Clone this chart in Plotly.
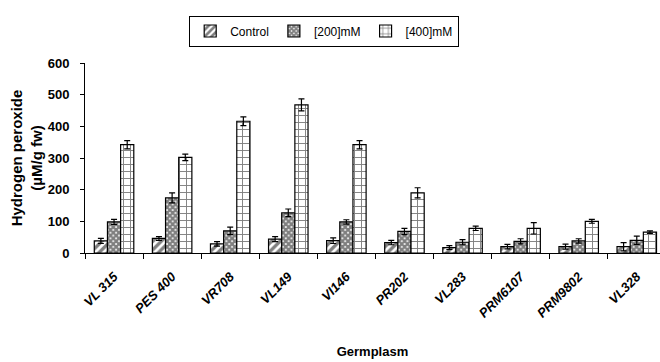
import plotly.graph_objects as go

categories = ["VL 315", "PES 400", "VR708", "VL149", "VI146", "PR202", "VL283", "PRM6107", "PRM9802", "VL328"]
control = [38, 46, 29, 44, 39, 33, 17, 20, 20, 20]
control_err = [8, 6, 7, 8, 9, 7, 6, 7, 8, 13]
mm200 = [98, 174, 70, 127, 98, 68, 34, 37, 38, 40]
mm200_err = [8, 16, 12, 12, 7, 10, 8, 8, 7, 13]
mm400 = [342, 302, 416, 468, 342, 190, 78, 78, 100, 66]
mm400_err = [13, 10, 14, 19, 13, 16, 7, 18, 6, 4]

FONT = "Liberation Sans, Arial, sans-serif"

fig = go.Figure()
series = [
    ("Control", control, control_err, dict(shape="/", fgcolor="black", bgcolor="white", size=6, solidity=0.55)),
    ("[200]mM", mm200, mm200_err, dict(shape="x", fgcolor="black", bgcolor="white", size=4, solidity=0.8)),
    ("[400]mM", mm400, mm400_err, dict(shape="+", fgcolor="black", bgcolor="white", size=7, solidity=0.25)),
]
for name, vals, err, pat in series:
    fig.add_trace(go.Bar(
        name=name, x=categories, y=vals,
        marker=dict(color="white", pattern=pat, line=dict(color="black", width=1.2)),
        error_y=dict(type="data", array=err, color="black", thickness=1.2, width=3),
    ))

fig.update_layout(
    width=660, height=362,
    margin=dict(l=85, r=0, t=63, b=109),
    paper_bgcolor="white", plot_bgcolor="white",
    barmode="group", bargap=0.32, bargroupgap=0,
    font=dict(family=FONT, color="black"),
    legend=dict(orientation="h", x=0.416, xanchor="center", y=1.25, yanchor="top",
                bordercolor="black", borderwidth=1, font=dict(size=12, family=FONT),
                itemwidth=30, tracegroupgap=0),
    xaxis=dict(
        range=[-0.5, 9.4], showline=True, linecolor="black", linewidth=1,
        ticks="outside", ticklen=5, tickcolor="black", tickson="boundaries",
        tickangle=-45, ticklabelstandoff=10,
        tickfont=dict(size=13, family=FONT, weight="bold", style="italic"),
        title=dict(text="Germplasm", font=dict(size=13, family=FONT, weight="bold"), standoff=27),
        showgrid=False,
    ),
    yaxis=dict(
        range=[0, 600], dtick=100, showline=True, linecolor="black", linewidth=1,
        ticks="outside", ticklen=4, tickcolor="black", ticklabelstandoff=8,
        tickfont=dict(size=13, family=FONT, weight="bold"),
        title=dict(text="Hydrogen peroxide<br>(µM/g fw)", font=dict(size=15, family=FONT, weight="bold"), standoff=1),
        showgrid=False, zeroline=False,
    ),
)

fig.write_html("out.html", config={"displayModeBar": False},
               post_script="document.body.style.margin='0px';")
